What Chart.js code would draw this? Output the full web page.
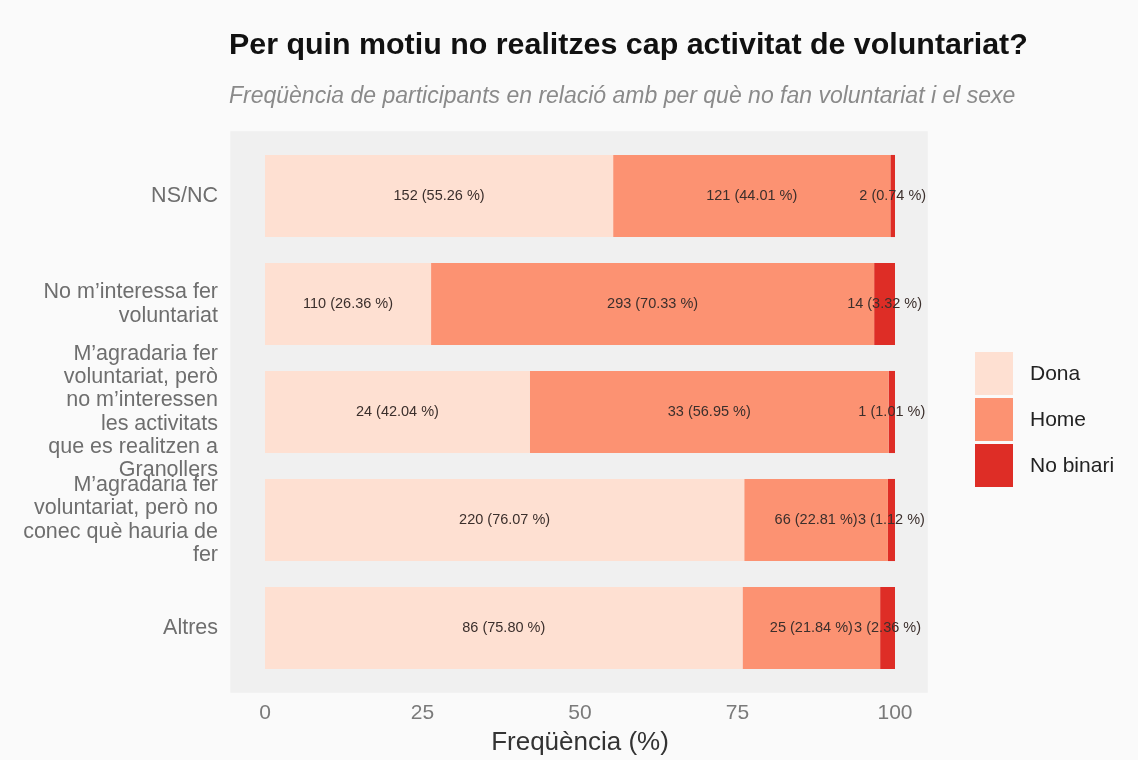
<!DOCTYPE html>
<html>
<head>
<meta charset="utf-8">
<script src="https://cdn.jsdelivr.net/npm/chart.js@4.4.0/dist/chart.umd.min.js"></script>
<style>
  html, body { margin: 0; padding: 0; background: #fafafa; }
</style>
</head>
<body>
<canvas id="myChart" width="1138" height="760"></canvas>
<script>
var categories = [
    'NS/NC',
    ['No m\u2019interessa fer', 'voluntariat'],
    ['M\u2019agradaria fer', 'voluntariat, però', 'no m\u2019interessen', 'les activitats', 'que es realitzen a', 'Granollers'],
    ['M\u2019agradaria fer', 'voluntariat, però no', 'conec què hauria de', 'fer'],
    'Altres'
];
var sexes = ['Dona', 'Home', 'No binari'];
var colors = ['#fee0d2', '#fc9272', '#de2d26'];

// counts per sex
var donaN = [152, 110, 24, 220, 86];
var homeN = [121, 293, 33, 66, 25];
var nbN = [2, 14, 1, 3, 3];

// percentages per sex
var donaPct = [55.26, 26.36, 42.04, 76.07, 75.80];
var homePct = [44.01, 70.33, 56.95, 22.81, 21.84];
var nbPct = [0.74, 3.32, 1.01, 1.12, 2.36];

var xTicks = [0, 25, 50, 75, 100];

var FONT = "'Liberation Sans', Arial, sans-serif";

var counts = [donaN, homeN, nbN];
var pcts = [donaPct, homePct, nbPct];

var datasets = sexes.map(function(s, i) {
    return {
        label: s,
        data: pcts[i],
        counts: counts[i],
        backgroundColor: colors[i],
        borderWidth: 0,
        barPercentage: 1,
        categoryPercentage: 0.76
    };
});

// gray panel + background
var panelPlugin = {
    id: 'panel',
    beforeDraw: function(chart) {
        var ctx = chart.ctx, ca = chart.chartArea, xs = chart.scales.x;
        ctx.save();
        ctx.fillStyle = '#fafafa';
        ctx.fillRect(0, 0, chart.width, chart.height);
        var step = (ca.bottom - ca.top) / categories.length;
        var left = xs.getPixelForValue(-5.5), right = xs.getPixelForValue(105.2);
        ctx.fillStyle = '#f0f0f0';
        ctx.fillRect(left, ca.top - 0.1 * step, right - left, (ca.bottom - ca.top) + 0.2 * step);
        ctx.restore();
    }
};

// titles, bar labels and legend
var textPlugin = {
    id: 'texts',
    afterDatasetsDraw: function(chart) {
        var ctx = chart.ctx;
        ctx.save();
        ctx.font = '14.5px ' + FONT;
        ctx.fillStyle = '#3b2f2c';
        ctx.textAlign = 'center';
        ctx.textBaseline = 'middle';
        chart.data.datasets.forEach(function(ds, i) {
            chart.getDatasetMeta(i).data.forEach(function(el, j) {
                var txt = ds.counts[j] + ' (' + ds.data[j].toFixed(2) + ' %)';
                ctx.fillText(txt, (el.x + el.base) / 2, el.y);
            });
        });
        ctx.restore();
    },
    afterDraw: function(chart) {
        var ctx = chart.ctx;
        ctx.save();
        ctx.textAlign = 'left';
        ctx.textBaseline = 'alphabetic';
        ctx.fillStyle = '#111';
        ctx.font = 'bold 30.4px ' + FONT;
        ctx.fillText('Per quin motiu no realitzes cap activitat de voluntariat?', 229, 54);
        ctx.fillStyle = '#8a8a8a';
        ctx.font = 'italic 23px ' + FONT;
        ctx.fillText('Freqüència de participants en relació amb per què no fan voluntariat i el sexe', 229, 103);

        // legend
        ctx.textBaseline = 'middle';
        ctx.font = '21px ' + FONT;
        chart.data.datasets.forEach(function(ds, i) {
            var y = 352 + i * 46;
            ctx.fillStyle = ds.backgroundColor;
            ctx.fillRect(975, y, 38, 43);
            ctx.fillStyle = '#222';
            ctx.fillText(ds.label, 1030, y + 22);
        });
        ctx.restore();
    }
};

var ctx = document.getElementById('myChart');
var myChart = new Chart(ctx, {
    type: 'bar',
    data: {
        labels: categories,
        datasets: datasets
    },
    options: {
        responsive: false,
        animation: false,
        indexAxis: 'y',
        layout: { padding: { top: 142, right: 243, left: 0, bottom: 0 } },
        plugins: {
            legend: { display: false },
            tooltip: { enabled: false }
        },
        scales: {
            x: {
                stacked: true,
                min: 0,
                max: 100,
                afterBuildTicks: function(s) { s.ticks = xTicks.map(function(v) { return { value: v }; }); },
                afterFit: function(s) { s.height = 78; },
                grid: { display: false, drawTicks: false },
                border: { display: false },
                ticks: { color: '#7a7a7a', font: { family: FONT, size: 21 }, padding: 19, autoSkip: false },
                title: {
                    display: true,
                    text: 'Freqüència (%)',
                    color: '#333',
                    font: { family: FONT, size: 26 },
                    padding: { top: 0, bottom: 2 }
                }
            },
            y: {
                stacked: true,
                offset: true,
                afterFit: function(s) { s.width = 265; },
                grid: { display: false, drawTicks: false },
                border: { display: false },
                ticks: { color: '#6e6e6e', font: { family: FONT, size: 21.5, lineHeight: 1.08 }, padding: 47, autoSkip: false }
            }
        }
    },
    plugins: [panelPlugin, textPlugin]
});
</script>
</body>
</html>
